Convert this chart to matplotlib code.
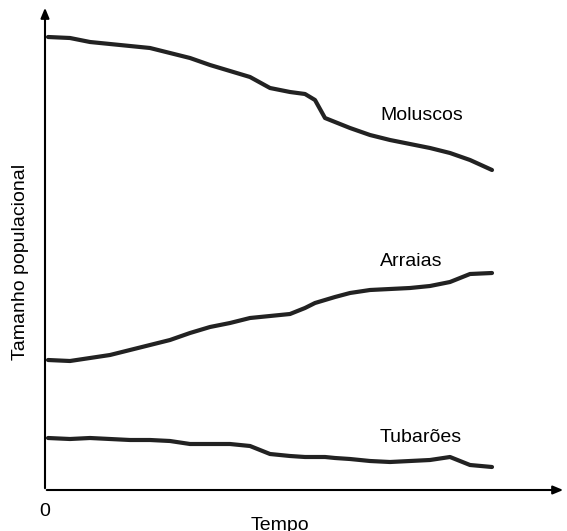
import matplotlib
matplotlib.use("Agg")
import matplotlib.pyplot as plt

plt.rcParams['font.family'] = ['Liberation Sans', 'DejaVu Sans']

tempo = [48, 70, 90, 110, 130, 150, 170, 190, 210, 230, 250, 270, 290, 305, 315, 325, 335, 350, 370, 390, 410, 430, 450, 470, 492]
moluscos = [37, 38, 42, 44, 46, 48, 53, 58, 65, 71, 77, 88, 92, 94, 100, 118, 122, 128, 135, 140, 144, 148, 153, 160, 170]
arraias = [360, 361, 358, 355, 350, 345, 340, 333, 327, 323, 318, 316, 314, 308, 303, 300, 297, 293, 290, 289, 288, 286, 282, 274, 273]
tubaroes = [438, 439, 438, 439, 440, 440, 441, 444, 444, 444, 446, 454, 456, 457, 457, 457, 458, 459, 461, 462, 461, 460, 457, 465, 467]

fig = plt.figure(figsize=(5.67, 5.31), dpi=100)
ax = fig.add_axes([0, 0, 1, 1])
ax.set_xlim(0, 567)
ax.set_ylim(531, 0)
ax.axis("off")

for y in (moluscos, arraias, tubaroes):
    ax.plot(tempo, y, color="#222222", lw=3, solid_capstyle="round")

ax.annotate("", xy=(45, 5), xytext=(45, 491),
            arrowprops=dict(arrowstyle="-|>,head_width=0.25,head_length=0.6", color="black", lw=1.5))
ax.annotate("", xy=(566, 490), xytext=(44, 490),
            arrowprops=dict(arrowstyle="-|>,head_width=0.25,head_length=0.6", color="black", lw=1.5))

fs = 14
ax.text(380, 115, "Moluscos", fontsize=fs, va="center", ha="left")
ax.text(380, 261, "Arraias", fontsize=fs, va="center", ha="left")
ax.text(380, 437, "Tubarões", fontsize=fs, va="center", ha="left")
ax.text(45, 512, "0", fontsize=fs, va="center", ha="center")
ax.text(280, 526, "Tempo", fontsize=fs, va="center", ha="center")
ax.text(21, 262, "Tamanho populacional", fontsize=fs, va="center", ha="center", rotation=90)

fig.savefig("out.png", dpi=100)
